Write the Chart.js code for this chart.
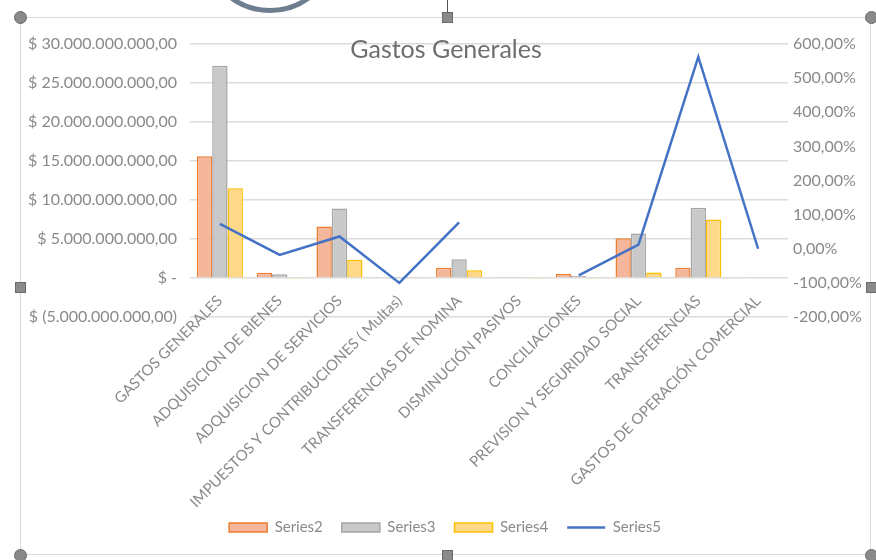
<!DOCTYPE html>
<html>
<head>
<meta charset="utf-8">
<script src="https://cdn.jsdelivr.net/npm/chart.js@4.4.1/dist/chart.umd.min.js"></script>
<style>
  html, body { margin: 0; padding: 0; background: #ffffff; }
  body { width: 876px; height: 560px; position: relative; overflow: hidden; }
  #chart { position: absolute; left: 0; top: 0; }
  .frame { position: absolute; left: 20px; top: 17px; width: 851px; height: 538px; border: 1px solid #d9d9d9; box-sizing: border-box; }
  .h { position: absolute; width: 11px; height: 11px; background: #8a8a8a; border: 1px solid #6a6a6a; box-sizing: border-box; }
  .c { border-radius: 50%; width: 13px; height: 13px; }
  .ring { position: absolute; left: 202px; top: -123px; width: 136px; height: 136px; border-radius: 50%; border: 5px solid #6f7d90; box-sizing: border-box; }
  .rot { position: absolute; left: 447px; top: 0; width: 1px; height: 13px; background: #555; }
</style>
</head>
<body>
<div class="ring"></div>
<div class="rot"></div>
<div class="frame"></div>
<canvas id="chart" width="876" height="560"></canvas>
<div class="h c" style="left:14px;top:11px"></div>
<div class="h" style="left:442px;top:12px"></div>
<div class="h c" style="left:865px;top:11px"></div>
<div class="h" style="left:15px;top:282px"></div>
<div class="h" style="left:866px;top:282px"></div>
<div class="h c" style="left:14px;top:549px"></div>
<div class="h" style="left:442px;top:550px"></div>
<div class="h c" style="left:865px;top:549px"></div>
<script>
const chartTitle = 'Gastos Generales';
const categories = [
  'GASTOS GENERALES',
  'ADQUISICION DE BIENES',
  'ADQUISICION DE SERVICIOS',
  'IMPUESTOS Y CONTRIBUCIONES ( Multas)',
  'TRANSFERENCIAS DE NOMINA',
  'DISMINUCIÓN PASIVOS',
  'CONCILIACIONES',
  'PREVISION Y SEGURIDAD SOCIAL',
  'TRANSFERENCIAS',
  'GASTOS DE OPERACIÓN COMERCIAL'
];
const seriesNames = ['Series2', 'Series3', 'Series4', 'Series5'];
const series2 = [15.6e9, 0.68e9, 6.6e9, 0.05e9, 1.3e9, 0.12e9, 0.5e9, 5.1e9, 1.3e9, 0.1e9];
const series3 = [27.2e9, 0.47e9, 8.9e9, 0.02e9, 2.4e9, 0.08e9, 0.25e9, 5.7e9, 9.0e9, 0.05e9];
const series4 = [11.5e9, -0.15e9, 2.3e9, -0.12e9, 1.0e9, -0.15e9, -0.15e9, 0.7e9, 7.5e9, 0.08e9];
const series5 = [73, -18, 36, -100, 77, null, -78, 12, 562, 0];
const leftTicks = { min: -5e9, max: 30e9, step: 5e9 };
const rightTicks = { min: -200, max: 600, step: 100 };

const FONT = 'Lato, "Open Sans", sans-serif';
const TICK_COLOR = '#8a8a8a';

function groupThousands(n) {
  const s = Math.round(n).toString();
  return s.replace(/\B(?=(\d{3})+(?!\d))/g, '.');
}
function fmtMoney(v) {
  if (v === 0) return '$ -';
  const s = groupThousands(Math.abs(v)) + ',00';
  return v < 0 ? '$ (' + s + ')' : '$ ' + s;
}
function fmtPct(v) {
  return v.toFixed(2).replace('.', ',') + '%';
}

const titlePlugin = {
  id: 'overlayTitle',
  afterDraw(chart) {
    const ctx = chart.ctx;
    ctx.save();
    ctx.font = '25px ' + FONT;
    ctx.fillStyle = '#6e6e6e';
    ctx.textAlign = 'center';
    ctx.textBaseline = 'middle';
    ctx.fillText(chartTitle, 446, 50);
    ctx.restore();
  }
};

new Chart(document.getElementById('chart'), {
  data: {
    labels: categories,
    datasets: [
      { type: 'bar', label: seriesNames[0], data: series2, xAxisID: 'x', yAxisID: 'y', order: 1,
        backgroundColor: '#F5B79B', borderColor: '#ED7D31', borderWidth: 1.5 },
      { type: 'bar', label: seriesNames[1], data: series3, xAxisID: 'x', yAxisID: 'y', order: 1,
        backgroundColor: '#C9C9C9', borderColor: '#A5A5A5', borderWidth: 1.5 },
      { type: 'bar', label: seriesNames[2], data: series4, xAxisID: 'x', yAxisID: 'y', order: 1,
        backgroundColor: '#FFD98A', borderColor: '#FFC000', borderWidth: 1.5 },
      { type: 'line', label: seriesNames[3], data: series5, xAxisID: 'x', yAxisID: 'y1', order: 0,
        borderColor: '#4472C4', backgroundColor: '#4472C4', borderWidth: 2.5,
        pointRadius: 0, pointBorderWidth: 2.5, pointBorderColor: '#4472C4',
        spanGaps: false, tension: 0, fill: false }
    ]
  },
  options: {
    responsive: false,
    animation: false,
    devicePixelRatio: 1,
    layout: { padding: { left: 14, right: 0, top: 44, bottom: 15 } },
    datasets: { bar: { barPercentage: 1.0, categoryPercentage: 0.77 } },
    plugins: {
      title: { display: false },
      tooltip: { enabled: false },
      legend: {
        display: true,
        position: 'bottom',
        labels: {
          usePointStyle: true,
          pointStyleWidth: 38,
          boxHeight: 9,
          padding: 19,
          color: TICK_COLOR,
          font: { family: FONT, size: 15 },
          sort: (a, b) => a.datasetIndex - b.datasetIndex,
          generateLabels(chart) {
            const items = Chart.defaults.plugins.legend.labels.generateLabels(chart);
            items.forEach(it => {
              const ds = chart.data.datasets[it.datasetIndex];
              if (ds.type === 'line') {
                it.pointStyle = 'line';
                it.lineWidth = 2.5;
                it.strokeStyle = ds.borderColor;
              } else {
                it.pointStyle = 'rect';
                it.lineWidth = 1.5;
                it.fillStyle = ds.backgroundColor;
                it.strokeStyle = ds.borderColor;
              }
            });
            return items;
          }
        }
      }
    },
    scales: {
      x: {
        position: { y: 0 },
        grid: { display: false, drawTicks: false },
        border: { display: false },
        ticks: {
          autoSkip: false, minRotation: 45, maxRotation: 45,
          padding: 14,
          color: TICK_COLOR,
          font: { family: FONT, size: 15 }
        }
      },
      xSpace: {
        type: 'category',
        position: 'bottom',
        grid: { display: false, drawTicks: false },
        border: { display: false },
        ticks: { display: false },
        afterFit(s) { s.height = 184; }
      },
      y: {
        position: 'left',
        min: leftTicks.min, max: leftTicks.max,
        afterFit(s) { s.width = 176; },
        grid: { color: '#dcdcdc', lineWidth: 1.5, drawTicks: false },
        border: { display: false },
        ticks: {
          stepSize: leftTicks.step, padding: 13,
          color: TICK_COLOR, font: { family: FONT, size: 16 },
          callback: v => fmtMoney(v)
        }
      },
      y1: {
        position: 'right',
        min: rightTicks.min, max: rightTicks.max,
        afterFit(s) { s.width = 88; },
        grid: { drawOnChartArea: false, drawTicks: false },
        border: { display: false },
        ticks: {
          stepSize: rightTicks.step, padding: 5,
          color: TICK_COLOR, font: { family: FONT, size: 16 },
          callback: v => fmtPct(v)
        }
      }
    }
  },
  plugins: [titlePlugin]
});
</script>
</body>
</html>
